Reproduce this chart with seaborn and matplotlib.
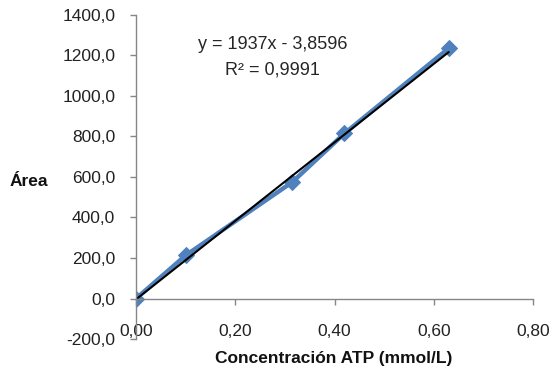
import numpy as np
import pandas as pd
import seaborn as sns
import matplotlib
matplotlib.use("Agg")
import matplotlib.pyplot as plt
from matplotlib.ticker import FuncFormatter

# Datos de la curva de calibración
conc = [0.0, 0.10, 0.315, 0.42, 0.63]
area = [0.0, 213.0, 575.0, 815.0, 1235.0]
slope = 1937
intercept = -3.8596
r2 = "0,9991"

sns.set_style("white")
plt.rcParams['font.family'] = ['Liberation Sans', 'DejaVu Sans']

df = pd.DataFrame({"conc": conc, "area": area})

fig = plt.figure(figsize=(5.53, 3.71), dpi=100)
ax = fig.add_axes([0.246, 0.086, 0.718, 0.874])

sns.lineplot(data=df, x="conc", y="area", ax=ax, color="#4F81BD", lw=3.2,
             marker="D", markersize=8, markeredgecolor="#4F81BD")

# Línea de tendencia
xt = np.array([min(conc), max(conc)])
ax.plot(xt, slope * xt + intercept, color="black", lw=1.5)

ax.set_xlim(0, 0.8)
ax.set_ylim(-200, 1400)
ax.set_xticks([0, 0.2, 0.4, 0.6, 0.8])
ax.set_yticks(np.arange(-200, 1401, 200))
ax.xaxis.set_major_formatter(FuncFormatter(lambda v, p: f"{v:.2f}".replace(".", ",")))
ax.yaxis.set_major_formatter(FuncFormatter(lambda v, p: f"{v:.1f}".replace(".", ",")))

ax.spines['bottom'].set_position(('data', 0))
for s in ['top', 'right']:
    ax.spines[s].set_visible(False)
for s in ['left', 'bottom']:
    ax.spines[s].set_color("#868686")
    ax.spines[s].set_linewidth(1)
ax.tick_params(axis='both', which='major', direction='out', length=4, width=1,
               color="#868686", labelsize=12.5, labelcolor="#222222",
               bottom=True, left=True)
ax.tick_params(axis='y', pad=11)
ax.tick_params(axis='x', pad=14)

ax.set_xlabel("")
ax.set_ylabel("")
fig.text(0.604, 0.035, "Concentración ATP (mmol/L)", ha="center", va="center",
         fontsize=12.5, fontweight="bold", color="#111111")
fig.text(0.052, 0.51, "Área", ha="center", va="center",
         fontsize=12.5, fontweight="bold", color="#111111")

ax.text(0.275, 1255, f"y = {slope}x - 3,8596", ha="center", va="center", fontsize=13)
ax.text(0.275, 1130, f"R² = {r2}", ha="center", va="center", fontsize=13)

fig.savefig("out.png", dpi=100)
